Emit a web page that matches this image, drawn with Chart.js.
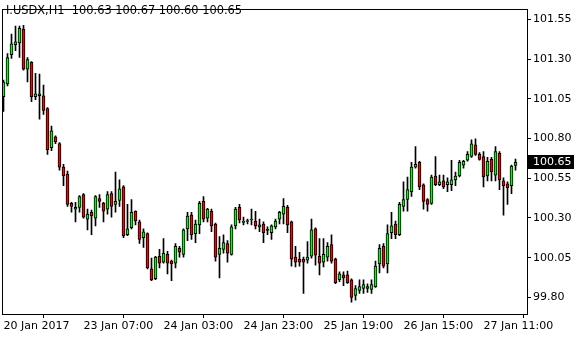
<!DOCTYPE html>
<html>
<head>
<meta charset="utf-8">
<script src="https://cdn.jsdelivr.net/npm/chart.js@4.4.1/dist/chart.umd.min.js"></script>
<style>
  html, body { margin: 0; padding: 0; background: #ffffff; }
  canvas { display: block; }
</style>
</head>
<body>
<canvas id="c" width="580" height="340"></canvas>
<script>
// ---- Data (I.USDX, H1) ----
const symbolTitle = 'I.USDX,H1';
const headerValues = ['100.63', '100.67', '100.60', '100.65'];

const openVals = [
  101.063, 101.143, 101.328, 101.390, 101.402, 101.488, 101.236, 101.279, 101.063, 101.069,
  101.069, 100.989, 100.743, 100.810, 100.768, 100.620, 100.576, 100.392, 100.355, 100.367,
  100.447, 100.293, 100.336, 100.299, 100.422, 100.392, 100.355, 100.453, 100.385, 100.410,
  100.496, 100.194, 100.238, 100.342, 100.275, 100.176, 100.201, 99.979, 99.917, 100.059,
  100.022, 100.071, 100.028, 100.016, 100.108, 100.071, 100.231, 100.318, 100.201, 100.256,
  100.404, 100.299, 100.342, 100.262, 100.071, 100.102, 100.139, 100.071, 100.250, 100.367,
  100.272, 100.278, 100.287, 100.281, 100.244, 100.262, 100.228, 100.207, 100.244, 100.293,
  100.324, 100.367, 100.275, 100.053, 100.041, 100.041, 100.034, 100.059, 100.231, 100.059,
  100.022, 100.053, 100.133, 100.041, 99.911, 99.942, 99.942, 99.911, 99.813, 99.843,
  99.856, 99.856, 99.850, 99.868, 100.010, 100.121, 100.010, 100.207, 100.262, 100.194,
  100.373, 100.416, 100.466, 100.620, 100.650, 100.509, 100.416, 100.392, 100.564, 100.509,
  100.533, 100.509, 100.509, 100.540, 100.564, 100.632, 100.663, 100.687, 100.761, 100.700,
  100.687, 100.564, 100.669, 100.570, 100.706, 100.533, 100.515, 100.503, 100.630
];
const highVals = [
  101.168, 101.334, 101.458, 101.507, 101.507, 101.513, 101.310, 101.285, 101.211, 101.205,
  101.137, 100.995, 100.878, 100.817, 100.774, 100.638, 100.595, 100.398, 100.398, 100.441,
  100.453, 100.355, 100.349, 100.441, 100.447, 100.398, 100.466, 100.466, 100.589, 100.540,
  100.503, 100.385, 100.416, 100.345, 100.287, 100.231, 100.207, 100.047, 100.059, 100.102,
  100.170, 100.090, 100.034, 100.139, 100.121, 100.231, 100.336, 100.336, 100.287, 100.404,
  100.435, 100.361, 100.355, 100.268, 100.182, 100.194, 100.157, 100.256, 100.367, 100.385,
  100.306, 100.293, 100.355, 100.342, 100.293, 100.275, 100.244, 100.256, 100.293, 100.342,
  100.422, 100.379, 100.281, 100.121, 100.084, 100.053, 100.151, 100.293, 100.237, 100.170,
  100.170, 100.145, 100.194, 100.047, 99.960, 99.960, 99.966, 99.917, 99.874, 99.911,
  99.911, 99.886, 99.911, 100.028, 100.133, 100.139, 100.256, 100.336, 100.281, 100.398,
  100.527, 100.558, 100.650, 100.749, 100.657, 100.515, 100.422, 100.570, 100.687, 100.570,
  100.570, 100.552, 100.663, 100.589, 100.663, 100.663, 100.718, 100.792, 100.798, 100.712,
  100.718, 100.681, 100.681, 100.749, 100.718, 100.552, 100.527, 100.632, 100.670
];
const lowVals = [
  100.971, 101.131, 101.304, 101.353, 101.310, 101.230, 101.156, 101.032, 101.045, 100.922,
  100.952, 100.700, 100.724, 100.768, 100.601, 100.503, 100.373, 100.336, 100.275, 100.336,
  100.299, 100.225, 100.194, 100.250, 100.367, 100.275, 100.324, 100.305, 100.336, 100.373,
  100.176, 100.188, 100.231, 100.256, 100.139, 100.114, 99.979, 99.905, 99.911, 99.985,
  100.016, 99.948, 99.905, 99.985, 100.053, 100.053, 100.157, 100.164, 100.145, 100.201,
  100.275, 100.275, 100.213, 100.028, 99.923, 100.078, 100.022, 100.065, 100.231, 100.268,
  100.256, 100.262, 100.256, 100.231, 100.213, 100.145, 100.194, 100.164, 100.231, 100.262,
  100.262, 100.207, 99.997, 99.991, 99.997, 99.825, 100.016, 100.047, 100.003, 99.942,
  99.991, 100.028, 100.016, 99.886, 99.899, 99.874, 99.888, 99.769, 99.782, 99.825,
  99.825, 99.831, 99.825, 99.862, 99.954, 99.985, 99.954, 100.170, 100.170, 100.188,
  100.342, 100.342, 100.435, 100.614, 100.478, 100.355, 100.342, 100.385, 100.503, 100.503,
  100.484, 100.466, 100.472, 100.503, 100.558, 100.614, 100.657, 100.681, 100.694, 100.663,
  100.496, 100.533, 100.533, 100.533, 100.478, 100.318, 100.385, 100.453, 100.600
];
const closeVals = [
  101.156, 101.310, 101.396, 101.408, 101.494, 101.236, 101.297, 101.063, 101.082, 101.082,
  100.977, 100.730, 100.848, 100.780, 100.620, 100.564, 100.385, 100.373, 100.367, 100.435,
  100.305, 100.324, 100.312, 100.435, 100.404, 100.342, 100.447, 100.373, 100.404, 100.484,
  100.188, 100.231, 100.336, 100.281, 100.164, 100.213, 99.985, 99.910, 100.053, 100.016,
  100.077, 100.016, 100.010, 100.121, 100.084, 100.225, 100.312, 100.194, 100.262, 100.392,
  100.293, 100.355, 100.250, 100.053, 100.108, 100.145, 100.078, 100.244, 100.355, 100.287,
  100.278, 100.284, 100.293, 100.250, 100.256, 100.207, 100.222, 100.250, 100.281, 100.336,
  100.373, 100.256, 100.041, 100.022, 100.022, 100.022, 100.053, 100.225, 100.065, 100.016,
  100.071, 100.121, 100.028, 99.893, 99.948, 99.923, 99.893, 99.800, 99.856, 99.868,
  99.880, 99.868, 99.880, 99.997, 100.108, 99.997, 100.201, 100.250, 100.194, 100.385,
  100.416, 100.478, 100.620, 100.638, 100.496, 100.404, 100.385, 100.558, 100.509, 100.527,
  100.496, 100.527, 100.540, 100.564, 100.650, 100.657, 100.700, 100.767, 100.700, 100.669,
  100.558, 100.657, 100.589, 100.718, 100.540, 100.503, 100.490, 100.626, 100.650
];
const xTickIndex = [0, 20, 40, 60, 80, 100, 120];
const xTickLabels = ['20 Jan 2017', '23 Jan 07:00', '24 Jan 03:00', '24 Jan 23:00', '25 Jan 19:00', '26 Jan 15:00', '27 Jan 11:00'];
const yTickValues = [99.80, 100.05, 100.30, 100.55, 100.80, 101.05, 101.30, 101.55];
const lastPrice = 100.65;

// ---- Styles ----
const UP = '#00ff00';
const DOWN = '#ff0000';
const FONT = { family: 'DejaVu Sans', size: 11 };

const idx = openVals.map((_, i) => i);
const bodyData = idx.map(i => ({ x: i, y: [openVals[i], closeVals[i]] }));
const wickData = idx.map(i => ({ x: i, y: [lowVals[i], highVals[i]] }));
const bodyColors = idx.map(i => closeVals[i] >= openVals[i] ? UP : DOWN);

const overlay = {
  id: 'overlay',
  afterDraw(chart) {
    const ctx = chart.ctx;
    const a = chart.chartArea;
    ctx.save();
    // frame
    ctx.strokeStyle = '#000';
    ctx.lineWidth = 1;
    ctx.strokeRect(Math.round(a.left) + 0.5, Math.round(a.top) + 0.5,
                   Math.round(a.right - a.left), Math.round(a.bottom - a.top));
    // header
    ctx.fillStyle = '#000';
    ctx.font = '11.4px "DejaVu Sans"';
    ctx.textBaseline = 'middle';
    ctx.textAlign = 'left';
    ctx.fillText(symbolTitle + '  ' + headerValues.join(' '), 6, 11);
    // current price tag
    ctx.font = '11px "DejaVu Sans"';
    const y = Math.round(chart.scales.y.getPixelForValue(lastPrice));
    ctx.fillStyle = '#000';
    ctx.fillRect(a.right + 1, y - 7, 46, 14);
    ctx.fillStyle = '#fff';
    ctx.fillText(lastPrice.toFixed(2), a.right + 6, y + 0.5);
    ctx.restore();
  }
};

new Chart(document.getElementById('c'), {
  type: 'bar',
  data: {
    datasets: [
      {
        label: 'body',
        data: bodyData,
        backgroundColor: bodyColors,
        borderColor: '#000',
        borderWidth: 1,
        borderSkipped: false,
        barThickness: 3,
        grouped: false,
        order: 1
      },
      {
        label: 'wick',
        data: wickData,
        backgroundColor: '#000',
        borderWidth: 0,
        barThickness: 1,
        grouped: false,
        order: 2
      }
    ]
  },
  options: {
    responsive: false,
    animation: false,
    devicePixelRatio: 1,
    layout: { padding: { left: 2, top: 2, right: 0, bottom: 0 } },
    plugins: { legend: { display: false }, tooltip: { enabled: false } },
    scales: {
      x: {
        type: 'linear',
        min: -0.375,
        max: 130.875,
        position: 'bottom',
        offset: false,
        border: { display: false },
        grid: { drawOnChartArea: false, drawTicks: true, tickLength: 4, color: '#000' },
        afterBuildTicks: s => { s.ticks = xTickIndex.map(v => ({ value: v })); },
        afterFit: s => { s.height = 26; },
        ticks: {
          autoSkip: false,
          maxRotation: 0,
          align: 'start',
          padding: 2,
          color: '#000',
          font: FONT,
          callback: (v) => { const k = xTickIndex.indexOf(v); return k >= 0 ? xTickLabels[k] : ''; }
        }
      },
      y: {
        type: 'linear',
        position: 'right',
        min: 99.6953,
        max: 101.6178,
        border: { display: false },
        grid: { drawOnChartArea: false, drawTicks: true, tickLength: 4, color: '#000' },
        afterBuildTicks: s => { s.ticks = yTickValues.map(v => ({ value: v })); },
        afterFit: s => { s.width = 53; },
        ticks: {
          padding: 2,
          color: '#000',
          font: FONT,
          callback: v => Number(v).toFixed(2)
        }
      }
    }
  },
  plugins: [overlay]
});
</script>
</body>
</html>
